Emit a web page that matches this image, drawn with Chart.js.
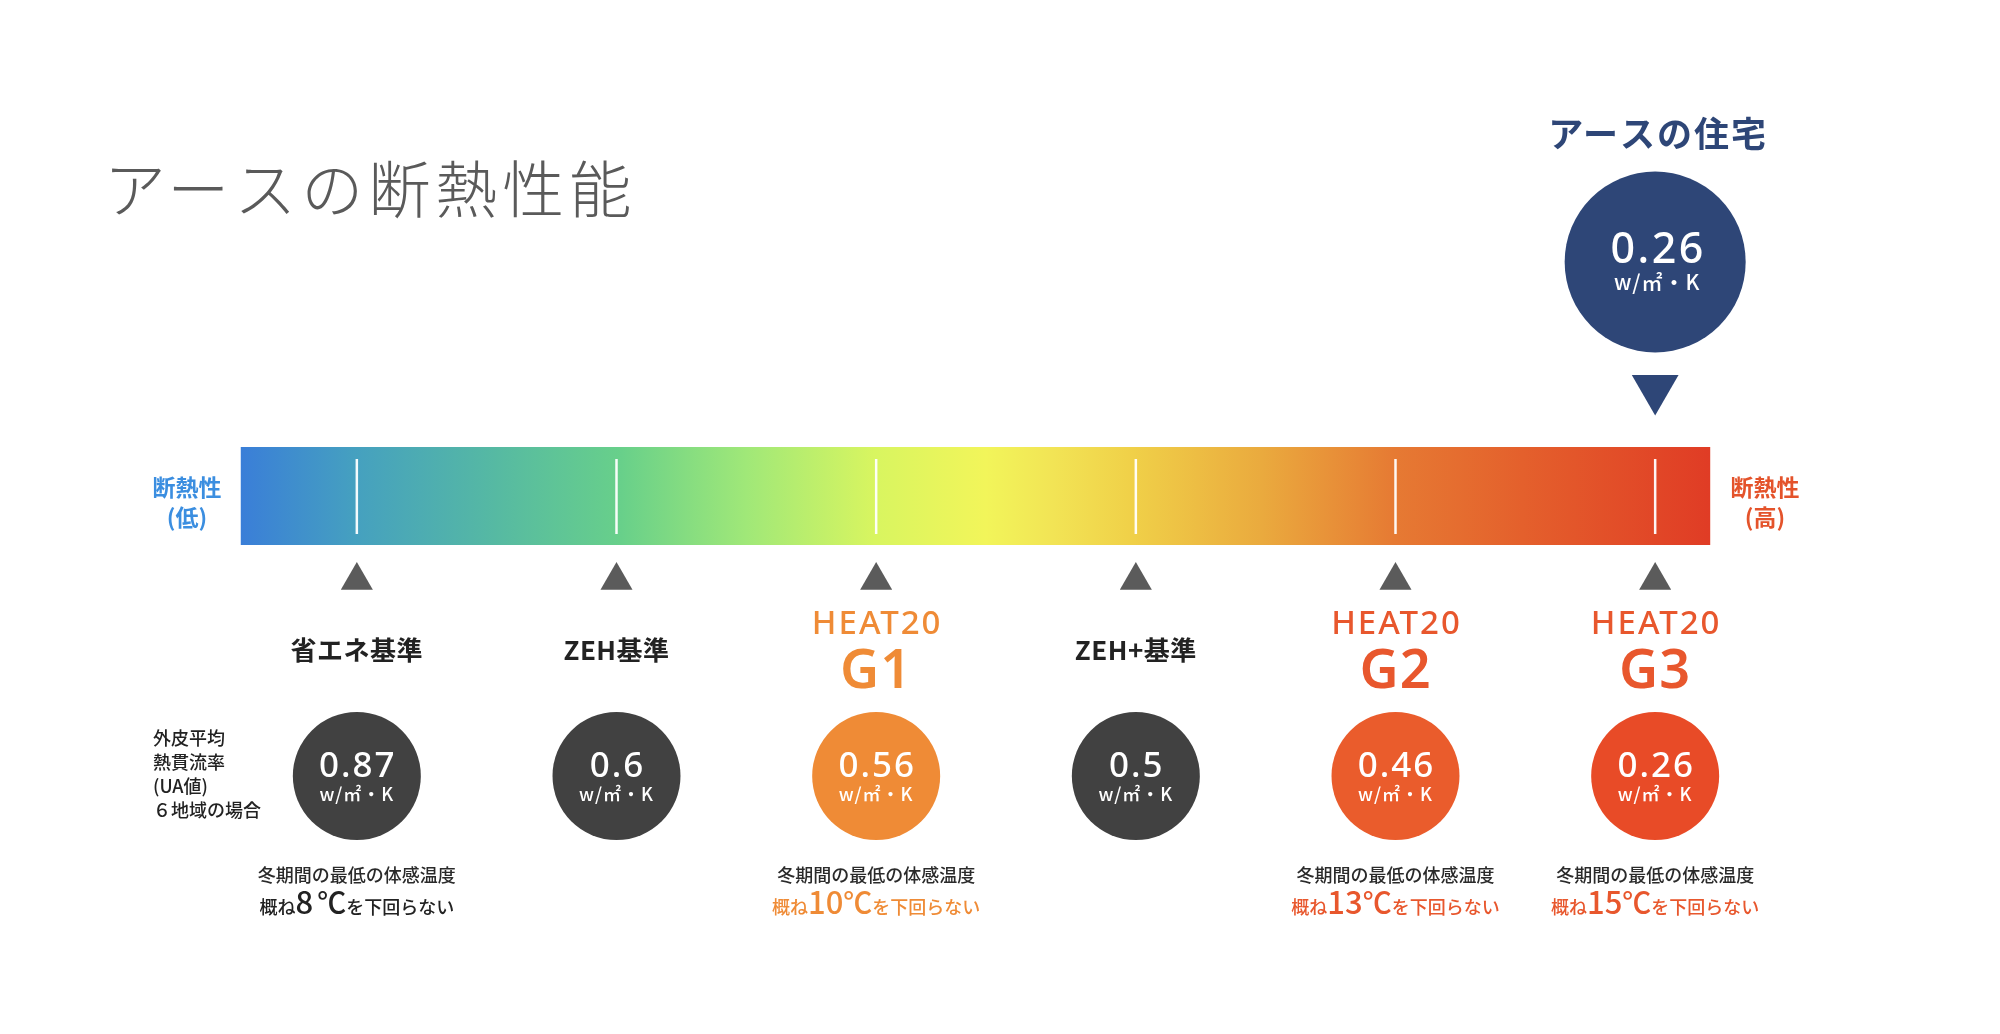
<!DOCTYPE html>
<html lang="ja">
<head>
<meta charset="utf-8">
<title>アースの断熱性能</title>
<script src="https://cdn.jsdelivr.net/npm/chart.js@4.4.1/dist/chart.umd.min.js"></script>
<style>
  html, body { margin: 0; padding: 0; background: #fff; overflow: hidden; }
  canvas { display: block; }
</style>
</head>
<body>
<canvas id="uaChart" width="2000" height="1034"></canvas>
<script>
// Data
const categories = ["省エネ基準", "ZEH基準", "HEAT20 G1", "ZEH+基準", "HEAT20 G2", "HEAT20 G3"];
const uaValues = [0.87, 0.6, 0.56, 0.5, 0.46, 0.26];
const minFeltTemps = [8, null, 10, null, 13, 15];
const ourHouseLabel = "アースの住宅";
const ourHouseUA = 0.26;
const ourHouseLevel = "HEAT20 G3";
const unitLabel = "w/㎡・K";
const uaLabelLines = ["外皮平均", "熱貫流率", "(UA値)", "６地域の場合"];
const scaleEndLow = ["断熱性", "(低)"];
const scaleEndHigh = ["断熱性", "(高)"];
const chartTitle = "アースの断熱性能";
const noteLine = "冬期間の最低の体感温度";

// Styles
const JP = '"Noto Sans CJK JP", "Noto Sans", sans-serif';
const LATIN = '"Noto Sans", "Noto Sans CJK JP", sans-serif';
const NAVY = "#2e4677";
const circleColors = ["#414141", "#414141", "#ef8b36", "#414141", "#ea5c2c", "#e84b27"];
const labelColors = ["#222222", "#222222", "#ef8b36", "#222222", "#e8572d", "#e8572d"];
const gradientStops = [
  [0, "#3a7ed8"], [0.077, "#45a0c0"], [0.168, "#55b8a4"], [0.259, "#68d08a"],
  [0.344, "#a0e878"], [0.431, "#d8f560"], [0.507, "#f2f55a"], [0.553, "#f2e455"],
  [0.607, "#f0d048"], [0.695, "#eaaa3e"], [0.785, "#e67a33"], [0.872, "#e4602c"], [1, "#e03c25"],
];

// Layout (y in canvas pixels, the y scale runs 0..1034 top to bottom)
const ROW = {
  title: 189, houseLabel: 134, house: 262, houseNum: 263, houseUnit: 290, pointer: 388.5,
  marker: 580.5, heat: 625, grade: 673, label: 650,
  circle: 776, num: 777, unit: 801, note1: 875, note2: 914,
};
const BAR = { from: -0.447, to: 5.212, top: 447, bottom: 545, tickTop: 459, tickBottom: 534 };

// Gradient bar with white ticks under each level
const barPlugin = {
  id: "heatBar",
  beforeDatasetsDraw(chart) {
    const { ctx, scales: { x } } = chart;
    const left = x.getPixelForValue(BAR.from);
    const right = x.getPixelForValue(BAR.to);
    const grad = ctx.createLinearGradient(left, 0, right, 0);
    gradientStops.forEach(([t, c]) => grad.addColorStop(t, c));
    ctx.save();
    ctx.fillStyle = grad;
    ctx.fillRect(left, BAR.top, right - left, BAR.bottom - BAR.top);
    ctx.strokeStyle = "rgba(255,255,255,0.95)";
    ctx.lineWidth = 2.5;
    categories.forEach((c, i) => {
      const px = x.getPixelForValue(i);
      ctx.beginPath();
      ctx.moveTo(px, BAR.tickTop);
      ctx.lineTo(px, BAR.tickBottom);
      ctx.stroke();
    });
    ctx.restore();
  },
};

function drawRuns(ctx, runs, cx, baseline) {
  let total = 0;
  runs.forEach((r) => {
    ctx.font = r.font;
    r.w = ctx.measureText(r.text).width + (r.gap || 0);
    total += r.w;
  });
  let xx = cx - total / 2;
  ctx.textAlign = "left";
  ctx.textBaseline = "alphabetic";
  runs.forEach((r) => {
    ctx.font = r.font;
    ctx.fillStyle = r.color;
    ctx.fillText(r.text, xx, baseline);
    xx += r.w;
  });
}

// All the texts
const textPlugin = {
  id: "texts",
  afterDatasetsDraw(chart) {
    const { ctx, scales: { x, y } } = chart;
    ctx.save();

    // title
    ctx.letterSpacing = "5px";
    ctx.font = `300 62px ${JP}`;
    ctx.fillStyle = "#5a5a5a";
    ctx.textAlign = "left";
    ctx.textBaseline = "middle";
    ctx.fillText(chartTitle, 104, y.getPixelForValue(ROW.title));

    // our house
    const hx = x.getPixelForValue(categories.indexOf(ourHouseLevel));
    ctx.letterSpacing = "2px";
    ctx.textAlign = "center";
    ctx.font = `bold 35px ${JP}`;
    ctx.fillStyle = NAVY;
    ctx.fillText(ourHouseLabel, hx + 3, y.getPixelForValue(ROW.houseLabel));
    ctx.textBaseline = "alphabetic";
    ctx.fillStyle = "#ffffff";
    ctx.letterSpacing = "2.5px";
    ctx.font = `500 43px ${LATIN}`;
    ctx.fillText(String(ourHouseUA), hx + 3, y.getPixelForValue(ROW.houseNum));
    ctx.letterSpacing = "1px";
    ctx.font = `500 21px ${JP}`;
    ctx.fillText(unitLabel, hx + 2, y.getPixelForValue(ROW.houseUnit));

    // ends of the bar
    ctx.letterSpacing = "0px";
    ctx.textBaseline = "middle";
    ctx.font = `bold 23px ${JP}`;
    ctx.fillStyle = "#3b8ee0";
    ctx.fillText(scaleEndLow[0], 187, 487);
    ctx.fillText(scaleEndLow[1], 187, 517);
    ctx.fillStyle = "#e4532b";
    ctx.fillText(scaleEndHigh[0], 1765, 487);
    ctx.fillText(scaleEndHigh[1], 1765, 517);

    // UA label on the left
    ctx.textAlign = "left";
    ctx.fillStyle = "#222222";
    ctx.font = `500 18px ${JP}`;
    [738, 762, 786, 810].forEach((yy, i) => ctx.fillText(uaLabelLines[i], 153, yy));

    categories.forEach((cat, i) => {
      const cx = x.getPixelForValue(i);
      ctx.textAlign = "center";
      ctx.textBaseline = "middle";

      // level name
      if (cat.startsWith("HEAT20")) {
        const [top, grade] = cat.split(" ");
        ctx.fillStyle = labelColors[i];
        ctx.letterSpacing = "2px";
        ctx.font = `500 33px ${LATIN}`;
        ctx.fillText(top, cx + 1, ROW.heat);
        ctx.letterSpacing = "1px";
        ctx.font = `600 54px ${LATIN}`;
        ctx.fillText(grade, cx, ROW.grade);
      } else {
        ctx.letterSpacing = "0.5px";
        ctx.fillStyle = "#222222";
        ctx.font = `bold 26px ${JP}`;
        ctx.fillText(cat, cx, ROW.label);
      }

      // value in circle
      ctx.textBaseline = "alphabetic";
      ctx.fillStyle = "#ffffff";
      ctx.letterSpacing = "2px";
      ctx.font = `500 35px ${LATIN}`;
      ctx.fillText(String(uaValues[i]), cx + 1, y.getPixelForValue(ROW.num));
      ctx.letterSpacing = "1px";
      ctx.font = `500 18px ${JP}`;
      ctx.fillText(unitLabel, cx, y.getPixelForValue(ROW.unit));
      ctx.letterSpacing = "0px";

      // felt temperature note
      if (minFeltTemps[i] !== null) {
        ctx.textBaseline = "middle";
        ctx.fillStyle = "#2a2a2a";
        ctx.font = `500 18px ${JP}`;
        ctx.fillText(noteLine, cx, ROW.note1);
        const col = labelColors[i];
        drawRuns(ctx, [
          { text: "概ね", font: `500 18px ${JP}`, color: col },
          { text: String(minFeltTemps[i]), font: `500 31px ${JP}`, color: col, gap: minFeltTemps[i] < 10 ? 4 : 0 },
          { text: "℃", font: `500 29px ${JP}`, color: col },
          { text: "を下回らない", font: `500 18px ${JP}`, color: col },
        ], cx, ROW.note2);
      }
    });
    ctx.restore();
  },
};

new Chart(document.getElementById("uaChart"), {
  type: "scatter",
  data: {
    labels: categories,
    datasets: [
      {
        label: "UA値",
        data: categories.map((c) => ({ x: c, y: ROW.circle })),
        pointRadius: 64,
        pointHoverRadius: 64,
        pointBackgroundColor: circleColors,
        pointBorderWidth: 0,
      },
      {
        label: "marker",
        data: categories.map((c) => ({ x: c, y: ROW.marker })),
        pointStyle: "triangle",
        pointRadius: 18.5,
        pointHoverRadius: 18.5,
        pointBackgroundColor: "#5b5b5b",
        pointBorderWidth: 0,
      },
      {
        label: ourHouseLabel,
        data: [{ x: ourHouseLevel, y: ROW.house }],
        pointRadius: 90.5,
        pointHoverRadius: 90.5,
        pointBackgroundColor: NAVY,
        pointBorderWidth: 0,
      },
      {
        label: "pointer",
        data: [{ x: ourHouseLevel, y: ROW.pointer }],
        pointStyle: "triangle",
        pointRotation: 180,
        pointRadius: 27,
        pointHoverRadius: 27,
        pointBackgroundColor: NAVY,
        pointBorderWidth: 0,
      },
    ],
  },
  options: {
    responsive: false,
    animation: false,
    devicePixelRatio: 1,
    events: [],
    layout: { autoPadding: false, padding: { left: 227, right: 215, top: 0, bottom: 0 } },
    scales: {
      x: { type: "category", labels: categories, offset: true, display: false },
      y: { type: "linear", min: 0, max: 1034, reverse: true, display: false },
    },
    plugins: {
      legend: { display: false },
      tooltip: { enabled: false },
    },
  },
  plugins: [barPlugin, textPlugin],
});
</script>
</body>
</html>
